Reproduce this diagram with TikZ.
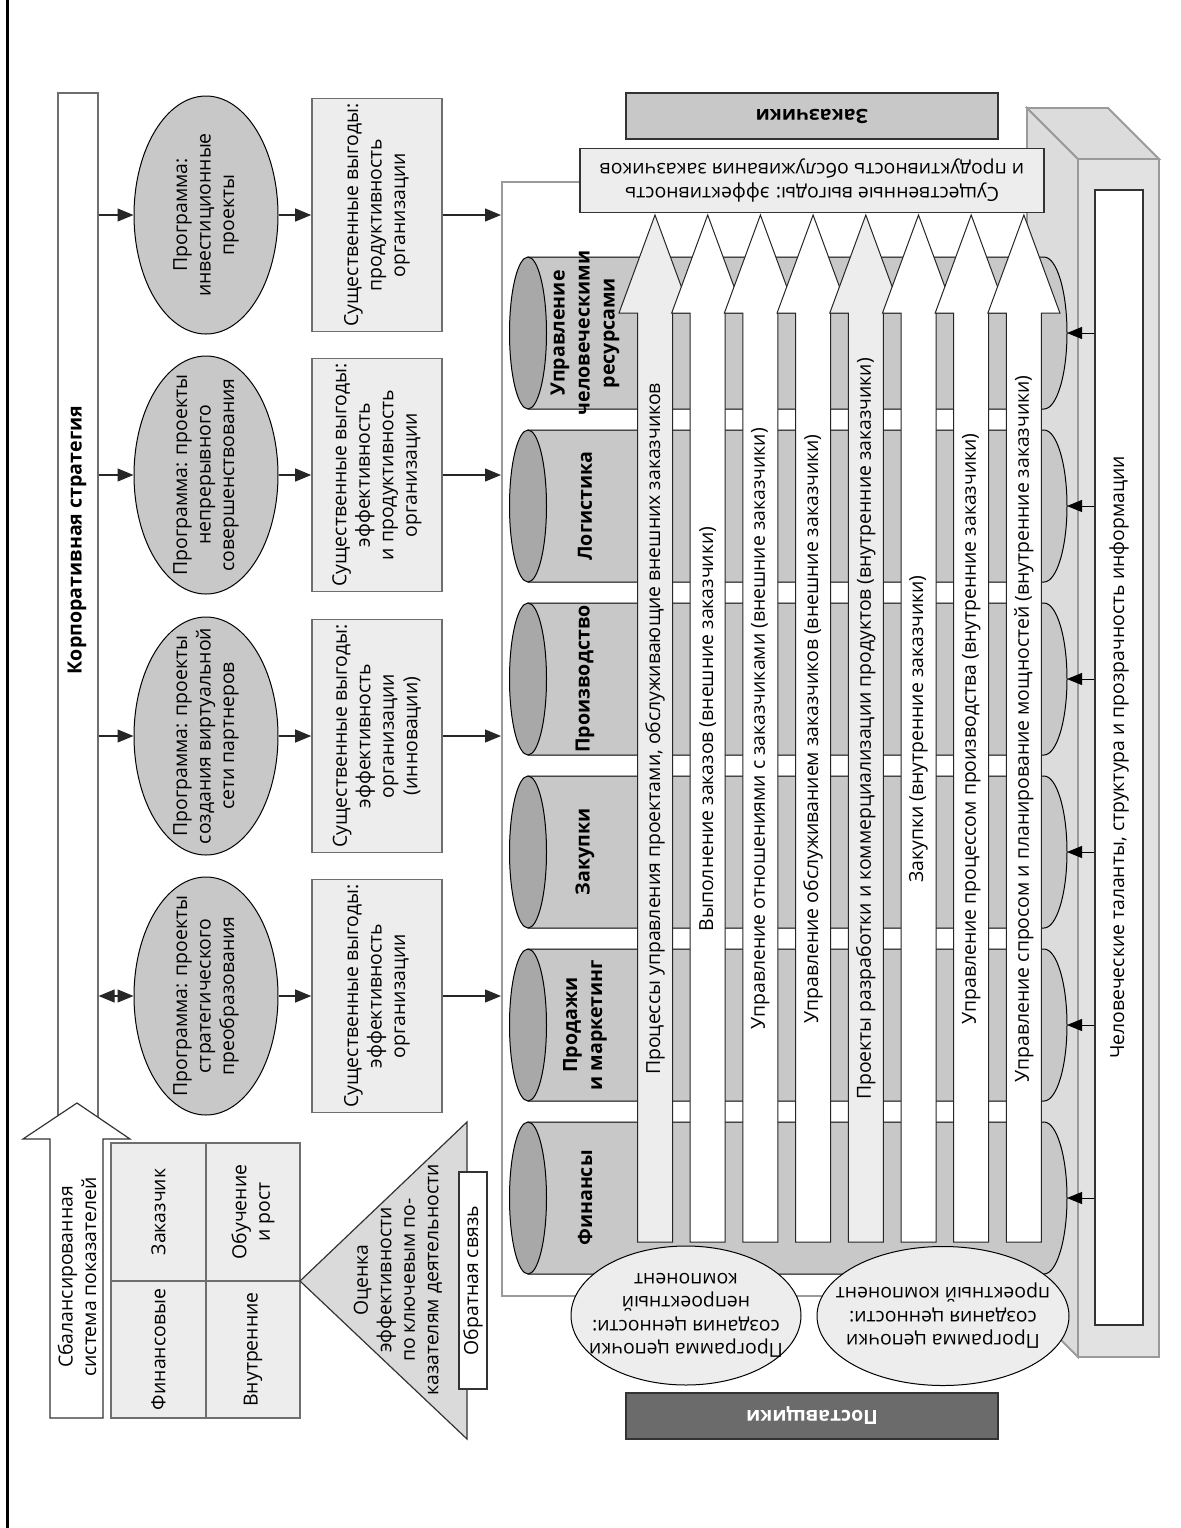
\documentclass[tikz,border=0pt]{standalone}
\usepackage{fontspec}
\setmainfont{Open Sans}
\usetikzlibrary{arrows.meta,shapes.geometric}
\definecolor{midgray}{HTML}{C8C8C8}
\definecolor{capgray}{HTML}{A8A8A8}
\definecolor{palegray}{HTML}{EDEDED}
\definecolor{slabgray}{HTML}{DCDCDC}
\definecolor{slabfront}{HTML}{E2E2E2}
\definecolor{trigray}{HTML}{DADADA}
\definecolor{supgray}{HTML}{6B6B6B}
\definecolor{edgegray}{HTML}{6E6E6E}
\definecolor{framegray}{HTML}{9A9A9A}
\newcommand\plainsz{\fontsize{9.7}{11.75}\selectfont}
\newcommand\boldsz{\fontsize{9.8}{12.5}\selectfont\bfseries}
\begin{document}
\begin{tikzpicture}[x=0.5pt,y=-0.5pt,
  every node/.style={inner sep=0pt, align=center, font=\plainsz},
  conn/.style={draw=black!85, line width=0.55pt, -{Triangle[length=8pt,width=6.5pt]}},
  dconn/.style={draw=black!85, line width=0.55pt, {Triangle[length=8pt,width=6.5pt]}-{Triangle[length=8pt,width=6.5pt]}},
  feed/.style={draw=black, line width=0.5pt, -{Triangle[length=7.5pt,width=6pt]}},
  prog/.style={ellipse, draw=black, line width=0.5pt, fill=midgray, rotate=90, minimum width=119pt, minimum height=72pt},
  gain/.style={rectangle, draw=edgegray, line width=0.8pt, fill=palegray, rotate=90, minimum width=116.5pt, minimum height=65pt},
  cell/.style={rectangle, draw=edgegray, line width=0.8pt, fill=palegray, rotate=90, minimum width=68.75pt, minimum height=47.25pt},
  chainprog/.style={ellipse, draw=black, line width=0.5pt, fill=palegray, rotate=180, minimum height=69.5pt},
  pipe/.style={draw=black, line width=0.5pt, fill=midgray},
  procarrow/.style={draw=black!85, line width=0.5pt},
  slab/.style={draw=framegray, line width=0.9pt, fill=slabgray}]
\useasboundingbox (0,0) rectangle (1181,1528);

% left margin rule
\draw[line width=1.5pt] (7,0) -- (7,1528);

% corporate strategy bar
\node[draw=edgegray, line width=0.8pt, fill=white, minimum width=20pt, minimum height=523.5pt, anchor=north west] (corp) at (57,92) {};
\node[rotate=90, font=\boldsz] (corptext) at (77,540) {Корпоративная стратегия};

% balanced scorecard arrow
\draw[draw=black!80, line width=0.6pt, fill=white] (50,1418) -- (50,1139) -- (23,1139) -- (77,1103) -- (130,1139) -- (103,1139) -- (103,1418) -- cycle;
\node[rotate=90] (bsc) at (77,1277) {Сбалансированная\\система показателей};

% scorecard grid
\node[cell] (q1) at (158.5,1212) {Заказчик};
\node[cell] (q2) at (158.5,1349.5) {Финансовые};
\node[cell] (q3) at (253,1212) {Обучение\\и рост};
\node[cell] (q4) at (253,1349.5) {Внутренние};

% KPI evaluation triangle
\draw[draw=black!80, line width=0.6pt, fill=trigray] (300,1281) -- (467,1122) -- (467,1439) -- cycle;
\node[rotate=90] (kpi) at (398,1280) {Оценка\\эффективности\\по ключевым по-\\казателям деятельности};
\node[draw=black!80, line width=0.6pt, fill=white, rotate=90, minimum width=108.5pt, minimum height=14pt] (fb) at (473,1280.5) {Обратная связь};

% programmes and their benefits
\foreach \r/\yy/\ptxt/\gtxt in {
  1/215/{Программа:\\инвестиционные\\проекты}/{Существенные выгоды:\\продуктивность\\организации},
  2/475/{Программа: проекты\\непрерывного\\совершенствования}/{Существенные выгоды:\\эффективность\\и продуктивность\\организации},
  3/736/{Программа: проекты\\создания виртуальной\\сети партнеров}/{Существенные выгоды:\\эффективность\\организации\\(инновации)},
  4/996/{Программа: проекты\\стратегического\\преобразования}/{Существенные выгоды:\\эффективность\\организации}}{
  \node[prog] (prog\r) at (206,\yy) {};
  \node[rotate=90] (prog\r text) at (206,\yy) {\ptxt};
  \node[gain] (gain\r) at (377,\yy) {\gtxt};
}

% enterprise frame
\node[draw=framegray, line width=0.9pt, fill=white, minimum width=269.5pt, minimum height=557pt, anchor=north west] (frame) at (501,181) {};

% supporting slab
\draw[slab] (1027,108) -- (1078,159) -- (1078,1357) -- (1027,1306) -- cycle;
\draw[slab] (1027,108) -- (1108,108) -- (1159,159) -- (1078,159) -- cycle;
\draw[slab, fill=slabfront] (1078,159) rectangle (1159,1357);
\node[draw=black!80, line width=0.6pt, fill=white, rotate=90, minimum width=567.5pt, minimum height=24pt] (talent) at (1119,757.5) {Человеческие таланты, структура и прозрачность информации};

% functional units
\foreach \i/\lbl in {0/{Управление\\человеческими\\ресурсами},1/Логистика,2/Производство,3/Закупки,4/{Продажи\\и маркетинг},5/Финансы}{
  \pgfmathsetmacro\yt{257+173*\i}
  \pgfmathsetmacro\yb{\yt+152}
  \pgfmathsetmacro\yc{\yt+76}
  \draw[pipe] (528,\yt) -- (1044,\yt) arc[start angle=-90,end angle=90,x radius=23,y radius=76] -- (528,\yb) -- cycle;
  \draw[pipe, fill=capgray] (528,\yc) ellipse[x radius=18.5,y radius=76];
  \node[font=\boldsz, rotate=90] (unit\i) at (585,\yc) {\lbl};
  \coordinate (unitend\i) at (1067,\yc);
}

% cross-functional processes
\foreach \k/\f/\lbl in {
  0/palegray/{Процессы управления проектами, обслуживающие внешних заказчиков},
  1/white/{Выполнение заказов (внешние заказчики)},
  2/white/{Управление отношениями с заказчиками (внешние заказчики)},
  3/white/{Управление обслуживанием заказчиков (внешние заказчики)},
  4/palegray/{Проекты разработки и коммерциализации продуктов (внутренние заказчики)},
  5/white/{Закупки (внутренние заказчики)},
  6/white/{Управление процессом производства (внутренние заказчики)},
  7/white/{Управление спросом и планирование мощностей (внутренние заказчики)}}{
  \pgfmathsetmacro\xc{655+52.7*\k}
  \draw[procarrow, fill=\f] (\xc-17.5,1242) -- (\xc-17.5,313) -- (\xc-36,313) -- (\xc,215) -- (\xc+36,313) -- (\xc+17.5,313) -- (\xc+17.5,1242) -- cycle;
  \node[rotate=90] (proc\k) at (\xc,729) {\lbl};
}

% customers side
\node[draw=black!80, line width=0.6pt, fill=palegray, rotate=180, minimum width=232pt, minimum height=32pt] (gainc) at (812,180.5) {Существенные выгоды: эффективность\\и продуктивность обслуживания заказчиков};
\node[draw=black!80, line width=0.6pt, fill=midgray, rotate=180, minimum width=186pt, minimum height=23pt, font=\boldsz] (cust) at (812,116) {Заказчики};

% value chain programmes and suppliers
\node[chainprog, minimum width=115pt] (chainA) at (686,1315.5) {};
\node[rotate=180] (chainAtext) at (686,1315.5) {Программа цепочки\\создания ценности:\\непроектный\\компонент};
\node[chainprog, minimum width=126pt] (chainB) at (943,1316) {};
\node[rotate=180] (chainBtext) at (943,1316) {Программа цепочки\\создания ценности:\\проектный компонент};
\node[draw=black!80, line width=0.6pt, fill=supgray, text=white, rotate=180, minimum width=186pt, minimum height=23pt, font=\boldsz] (supp) at (812,1416) {Поставщики};

% connectors
\foreach \r in {1,2,3}{
  \draw[conn] (corp.east |- prog\r.center) -- (prog\r.north);
}
\draw[dconn] (corp.east |- prog4.center) -- (prog4.north);
\foreach \r in {1,...,4}{
  \draw[conn] (prog\r.south) -- (gain\r.north);
  \draw[conn] (gain\r.south) -- (frame.west |- gain\r.center);
}
\foreach \i in {0,...,5}{
  \draw[feed] (talent.north |- unitend\i) -- (unitend\i);
}
\end{tikzpicture}
\end{document}
